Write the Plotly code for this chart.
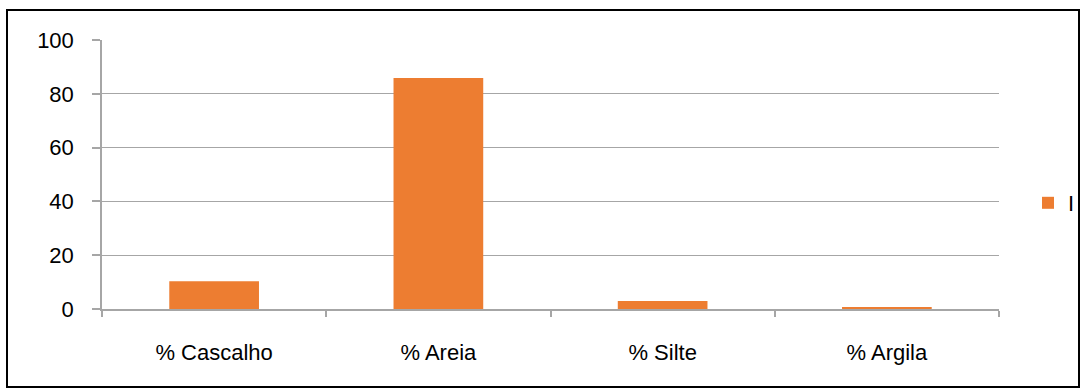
import plotly.graph_objects as go

categories = ["% Cascalho", "% Areia", "% Silte", "% Argila"]
values_I = [10.3, 85.9, 3.0, 0.5]
series_name = "I"
y_ticks = [0, 20, 40, 60, 80, 100]

W, H = 1082, 390
L, R, T, B = 102, 83, 40, 81
pw, ph = W - L - R, H - T - B

fig = go.Figure()
fig.add_trace(go.Bar(x=categories, y=values_I, name=series_name,
                     marker=dict(color="#ED7D31", line=dict(width=0))))

fig.update_layout(
    width=W, height=H,
    margin=dict(l=L, r=R, t=T, b=B, autoexpand=False),
    paper_bgcolor="white", plot_bgcolor="white",
    font=dict(family="Liberation Sans, Arial, sans-serif", size=22, color="#000000"),
    bargap=0.6,
    showlegend=True,
    legend=dict(x=(1028 - L) / pw, y=(H - B - 203) / ph, xanchor="left", yanchor="middle",
                font=dict(size=22, color="#000000"), itemwidth=30, bgcolor="rgba(0,0,0,0)"),
    xaxis=dict(type="category", range=[-0.5, 3.5], showline=True, linecolor="#a6a6a6",
               linewidth=1.5, ticks="outside", tickson="boundaries", ticklen=6,
               tickcolor="#a6a6a6", tickwidth=1.5, showgrid=False, ticklabelstandoff=23),
    yaxis=dict(range=[0, 100], tickvals=y_ticks, showline=True, linecolor="#a6a6a6",
               linewidth=1.5, ticks="outside", ticklen=8, tickcolor="#a6a6a6",
               tickwidth=1.5, showgrid=True, gridcolor="#a6a6a6", gridwidth=1,
               zeroline=False, ticklabelstandoff=14),
)

fig.add_shape(type="rect", xref="paper", yref="paper",
              x0=(7 - L) / pw, x1=(1079 - L) / pw,
              y0=(H - B - 387) / ph, y1=(H - B - 10) / ph,
              line=dict(color="black", width=2), fillcolor="rgba(0,0,0,0)", layer="above")

fig.write_html("out.html")
